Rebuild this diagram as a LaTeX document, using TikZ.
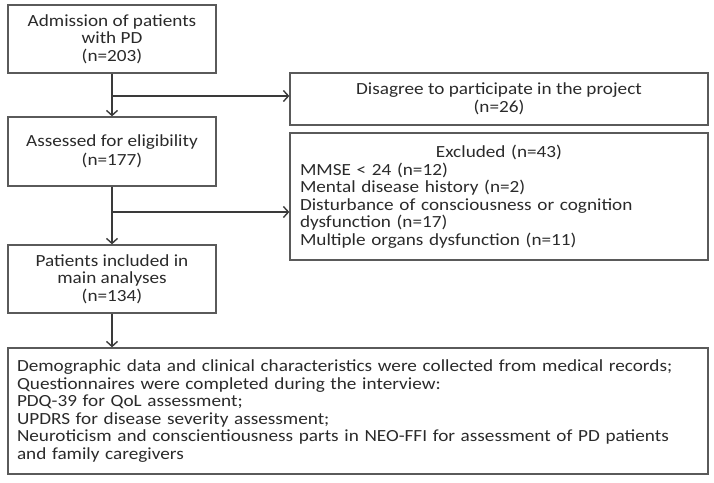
\documentclass[tikz,border=0pt]{standalone}
\usepackage{fontspec}
\setmainfont{Carlito}[FakeStretch=1.13]
\usetikzlibrary{arrows.meta}
\definecolor{txt}{HTML}{2A2A2A}
\definecolor{ln}{HTML}{3A3A3A}
\definecolor{bx}{HTML}{5A5A5A}
\tikzset{
  box/.style={draw=bx, line width=1.3pt, text=txt, inner sep=0pt,
    font=\fontsize{17}{17.5}\selectfont},
  arr/.style={draw=ln, line width=1.4pt, -{Straight Barb[length=5pt,width=11pt,line width=1.4pt]}}
}
\begin{document}
\begin{tikzpicture}[x=1pt,y=-1pt]
\useasboundingbox (0,0) rectangle (714,482);
\node[box, minimum width=208pt, minimum height=68pt, align=center] (b1) at (112,39) {Admission of patients\\with PD\\(n=203)};
\node[box, minimum width=208pt, minimum height=69pt, align=center] (b2) at (112,151.5) {Assessed for eligibility\\[2pt](n=177)};
\node[box, minimum width=208pt, minimum height=68pt, align=center] (b3) at (112,279) {Patients included in\\main analyses\\(n=134)};
\node[box, minimum width=418pt, minimum height=52pt, align=center] (dis) at (499,99) {Disagree to participate in the project\\(n=26)};
\node[box, minimum width=418pt, minimum height=127pt, text width=398pt, align=left] (ex) at (499,196.5) {{\centering Excluded (n=43)\par}MMSE < 24 (n=12)\\Mental disease history (n=2)\\Disturbance of consciousness or cognition\\dysfunction (n=17)\\Multiple organs dysfunction (n=11)};
\node[box, minimum width=700pt, minimum height=126pt, text width=682pt, align=left] (bot) at (358,411) {Demographic data and clinical characteristics were collected from medical records;\\Questionnaires were completed during the interview:\\PDQ-39 for QoL assessment;\\UPDRS for disease severity assessment;\\Neuroticism and conscientiousness parts in NEO-FFI for assessment of PD patients\\and family caregivers};
\coordinate (j1) at (112,96);
\coordinate (j2) at (112,212);
\draw[arr] (b1) -- (b2);
\draw[arr] (b2) -- (b3);
\draw[arr] (b3.south) -- (b3.south |- bot.north);
\draw[arr] (j1) -- (j1 -| dis.west);
\draw[arr] (j2) -- (j2 -| ex.west);
\end{tikzpicture}
\end{document}
